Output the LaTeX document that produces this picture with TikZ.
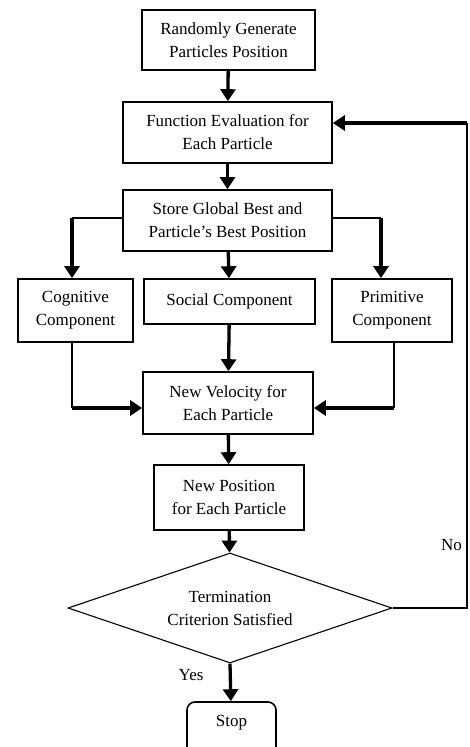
\documentclass[tikz,border=0pt]{standalone}
\usepackage{fontspec}
\setmainfont{Liberation Serif}
\usetikzlibrary{shapes.geometric,arrows.meta}
\tikzset{
>={Triangle[length=12pt,width=15pt]},
every node/.style={font=\fontsize{17}{23}\selectfont, align=center},
block/.style={draw, line width=1.6pt, inner sep=0pt},
decision/.style={draw, diamond, line width=1.1pt, inner sep=0pt, aspect=3},
term/.style={draw, rounded corners=8pt, line width=1.6pt, inner sep=0pt},
link/.style={line width=1.6pt},
flow/.style={->, line width=3.3pt},
}

\begin{document}
\begin{tikzpicture}[x=1pt,y=-1pt]
        \clip (0,0) rectangle (470,747);
        \fill[white] (0,0) rectangle (470,747);

        \node[block, minimum width=173pt, minimum height=60pt] (rand) at (228.5,40) {Randomly Generate\\Particles Position};
        \node[block, minimum width=209pt, minimum height=61pt] (feval) at (227.5,132.5) {Function Evaluation for\\Each Particle};
        \node[block, minimum width=209pt, minimum height=61pt] (store) at (227.5,220.5) {Store Global Best and\\Particle's Best Position};
        \node[block, minimum width=115pt, minimum height=63pt] (cog) at (75.5,310.5) {Cognitive\\Component};
        \node[block, minimum width=171pt, minimum height=45pt] (soc) at (229.5,301.5) {Social Component};
        \node[block, minimum width=120pt, minimum height=63pt] (prim) at (392,310.5) {Primitive\\Component};
        \node[block, minimum width=170pt, minimum height=62pt] (vel) at (228,403) {New Velocity for\\Each Particle};
        \node[block, minimum width=150pt, minimum height=65pt] (pos) at (229,497.5) {New Position\\for Each Particle};
        \node[decision, minimum width=324pt, minimum height=110pt] (test) at (230,608) {Termination\\Criterion Satisfied};
        \node[term, minimum width=89pt, minimum height=56pt, text depth=18pt] (stop) at (231.5,730) {Stop};

        \coordinate (cogturn) at (72,218);
        \coordinate (primturn) at (381,218);
        \coordinate (cogbend) at (72,408);
        \coordinate (primbend) at (394,408);
        \coordinate (loop) at (467,123);

        \draw[flow] (rand) -- (feval);
        \draw[flow] (feval) -- (store);
        \draw[link] (store.west |- cogturn) -- (cogturn);
        \draw[flow] (cogturn) -- (cogturn |- cog.north);
        \draw[flow] (store) -- (soc);
        \draw[link] (store.east |- primturn) -- (primturn);
        \draw[flow] (primturn) -- (primturn |- prim.north);
        \draw[link] (cogbend |- cog.south) -- (cogbend);
        \draw[flow] (cogbend) -- (cogbend -| vel.west);
        \draw[flow] (soc) -- (vel);
        \draw[link] (primbend |- prim.south) -- (primbend);
        \draw[flow] (primbend) -- (primbend -| vel.east);
        \draw[flow] (vel) -- (pos);
        \draw[flow] (pos) -- (test);
        \draw[flow] (test.south) -- node[left, xshift=-22pt, yshift=7pt]{Yes} (stop);
        \draw[link] (test.east) -| node[pos=0.565, left, xshift=-1pt]{No} (loop);
        \draw[flow] (loop) -- (loop -| feval.east);

    \end{tikzpicture}
\end{document}
